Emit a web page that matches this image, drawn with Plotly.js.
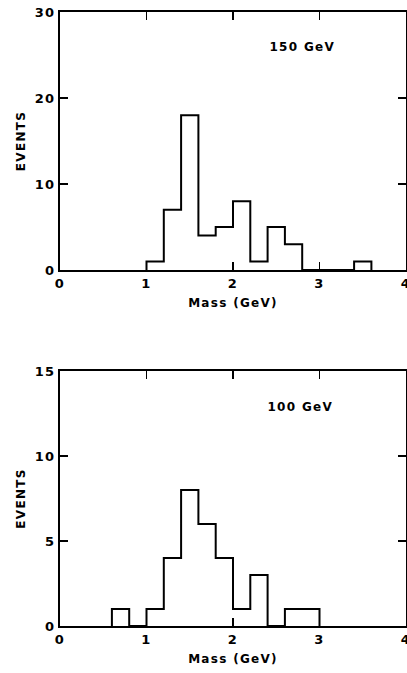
<!DOCTYPE html>
<html>
<head>
<meta charset="utf-8">
<script src="https://cdn.plot.ly/plotly-3.0.1.min.js"></script>
<style>
html, body { margin: 0; padding: 0; background: #fff; }
#chart { width: 407px; height: 673px; }
#chart text { letter-spacing: 1.3px; }
</style>
</head>
<body>
<div id="chart"></div>
<script>
// Top panel: 150 GeV
const edges150 = [1.0, 1.2, 1.4, 1.6, 1.8, 2.0, 2.2, 2.4, 2.6, 2.8, 3.0, 3.2, 3.4, 3.6];
const counts150 = [1, 7, 18, 4, 5, 8, 1, 5, 3, 0, 0, 0, 1];
// Bottom panel: 100 GeV
const edges100 = [0.6, 0.8, 1.0, 1.2, 1.4, 1.6, 1.8, 2.0, 2.2, 2.4, 2.6, 2.8, 3.0];
const counts100 = [1, 0, 1, 4, 8, 6, 4, 1, 3, 0, 1, 1];

const xTicks = [0, 1, 2, 3, 4];
const yTicks150 = [0, 10, 20, 30];
const yTicks100 = [0, 5, 10, 15];
const labels = { top: "150 GeV", bottom: "100 GeV", x: "Mass (GeV)", y: "EVENTS" };

function stepXY(edges, counts) {
  const n = counts.length;
  const x = [edges[0]].concat(edges.slice(0, n)).concat([edges[n]]);
  const y = [0].concat(counts).concat([0]);
  return { x, y };
}

const s1 = stepXY(edges150, counts150);
const s2 = stepXY(edges100, counts100);
const lineStyle = { color: "#000", width: 2, shape: "hv" };
const FONT = { family: "DejaVu Sans, sans-serif", size: 12, color: "#000", weight: "bold" };
const TICKFONT = { family: "DejaVu Sans, sans-serif", size: 13, color: "#000", weight: "bold" };

const data = [
  { x: s1.x, y: s1.y, type: "scatter", mode: "lines", line: lineStyle, xaxis: "x", yaxis: "y", hoverinfo: "skip", cliponaxis: false },
  { x: s2.x, y: s2.y, type: "scatter", mode: "lines", line: lineStyle, xaxis: "x2", yaxis: "y2", hoverinfo: "skip", cliponaxis: false }
];

function xAxis(anchor) {
  return {
    anchor: anchor, domain: [0, 1], range: [0, 4],
    tickvals: xTicks, ticktext: xTicks.map(String),
    ticks: "inside", ticklen: 8, tickwidth: 1.8, tickcolor: "#000",
    showline: true, linecolor: "#000", linewidth: 2, mirror: "ticks",
    showgrid: false, zeroline: false, tickfont: TICKFONT,
    ticklabeloverflow: "allow",
    title: { text: labels.x, font: FONT, standoff: 9 }
  };
}
function yAxis(anchor, dom, rng, ticks) {
  return {
    anchor: anchor, domain: dom, range: rng,
    tickvals: ticks, ticktext: ticks.map(String),
    ticks: "inside", ticklen: 8, tickwidth: 1.8, tickcolor: "#000",
    showline: true, linecolor: "#000", linewidth: 2, mirror: "ticks",
    showgrid: false, zeroline: false, tickfont: TICKFONT,
    ticklabeloverflow: "allow",
    title: { text: labels.y, font: FONT, standoff: 9 }
  };
}

const layout = {
  width: 407, height: 673,
  margin: { l: 60, r: 1, t: 12, b: 47 },
  paper_bgcolor: "#fff", plot_bgcolor: "#fff",
  showlegend: false,
  font: FONT,
  xaxis: xAxis("y"),
  yaxis: yAxis("x", [0.5798, 1], [0, 30], yTicks150),
  xaxis2: xAxis("y2"),
  yaxis2: yAxis("x2", [0, 0.4153], [0, 15], yTicks100),
  annotations: [
    { xref: "x", yref: "y", x: 2.8, y: 25.9, text: labels.top, showarrow: false, font: FONT },
    { xref: "x2", yref: "y2", x: 2.78, y: 12.9, text: labels.bottom, showarrow: false, font: FONT }
  ]
};

Plotly.newPlot("chart", data, layout, { staticPlot: true, displayModeBar: false });
</script>
</body>
</html>
